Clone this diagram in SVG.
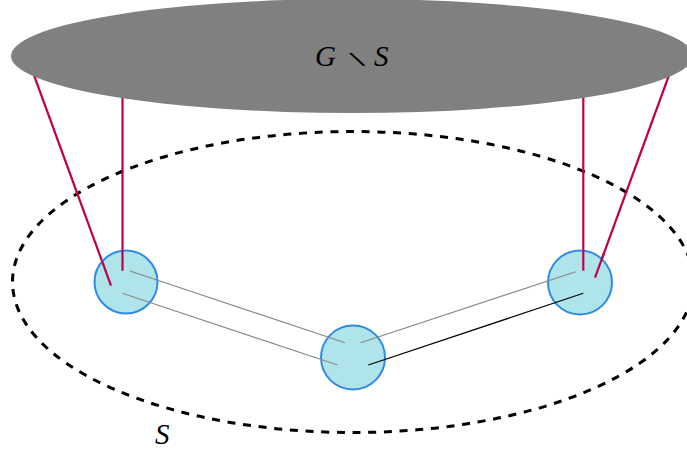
<svg xmlns="http://www.w3.org/2000/svg" width="687" height="450" viewBox="0 0 687 450">
<style>
.red{stroke:#c1004b;stroke-width:2.2;fill:none}
.gl{stroke:#888;stroke-width:1.2;fill:none}
.bl{stroke:#000;stroke-width:1.2;fill:none}
.node{fill:#afe4eb;stroke:#2e8be3;stroke-width:2}
.lbl{font-family:"Liberation Serif","DejaVu Serif",serif;font-style:italic;font-size:29px;fill:#000}
.op{font-family:"DejaVu Sans",sans-serif;font-style:normal;font-weight:200;font-size:26px;fill:#000}
</style>
<rect width="687" height="450" fill="#fff"/>
<g id="S-region">
<ellipse cx="353" cy="282" rx="340.5" ry="150.5" fill="none" stroke="#000" stroke-width="3" stroke-dasharray="8 7.7"/>
<text class="lbl" x="155" y="444">S</text>
</g>
<g id="connectors">
<line class="red" x1="31" y1="67" x2="111" y2="285.7"/>
<line class="red" x1="122.5" y1="85" x2="122.5" y2="270.7"/>
<line class="red" x1="583.3" y1="85" x2="583.3" y2="270.7"/>
<line class="red" x1="672" y1="67" x2="595" y2="277.7"/>
</g>
<g id="G-minus-S">
<ellipse cx="352" cy="56" rx="341" ry="57" fill="#808080"/>
<text class="lbl" y="66"><tspan x="315">G</tspan><tspan x="374">S</tspan></text>
<text class="op" text-anchor="middle" transform="translate(355,64.5) scale(2.1,0.6)">∖</text>
</g>
<g id="node-left"><circle class="node" cx="126" cy="282" r="31.5"/></g>
<g id="node-mid"><circle class="node" cx="353" cy="357.5" r="32"/></g>
<g id="node-right"><circle class="node" cx="580" cy="282.5" r="32"/></g>
<g id="edges">
<line class="red" x1="111" y1="285.7" x2="102" y2="261"/>
<line class="red" x1="122.5" y1="270.7" x2="122.5" y2="250"/>
<line class="red" x1="583.3" y1="270.7" x2="583.3" y2="250"/>
<line class="red" x1="595" y1="277.7" x2="604" y2="253"/>
<line class="gl" x1="130" y1="271" x2="345" y2="342.7"/>
<line class="gl" x1="122.3" y1="293.3" x2="337.7" y2="365"/>
<line class="gl" x1="360.7" y1="342.7" x2="575.7" y2="271.7"/>
<line class="bl" x1="368.3" y1="365" x2="583.3" y2="293.3"/>
</g>
</svg>
